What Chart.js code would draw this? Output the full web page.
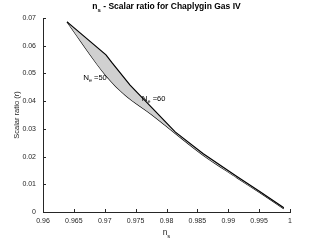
<!DOCTYPE html>
<html>
<head>
<meta charset="utf-8">
<script src="https://cdn.jsdelivr.net/npm/chart.js@4/dist/chart.umd.min.js"></script>
<style>
  html, body { margin: 0; padding: 0; background: #fff; }
  #wrap { width: 321px; height: 241px; position: relative; }
</style>
</head>
<body>
<div id="wrap"><canvas id="chart"></canvas></div>
<script>
// N_e = 60 boundary (upper / right edge of the band)
const nsN60 = [0.9639, 0.9702, 0.9712, 0.9741, 0.9777, 0.9814, 0.9859, 0.9914, 0.9951, 0.9990];
const rN60  = [0.0686, 0.0567, 0.0538, 0.0458, 0.0375, 0.0289, 0.0211, 0.0128, 0.0074, 0.0015];
// N_e = 50 boundary (lower / left edge of the band)
const nsN50 = [0.9639, 0.9704, 0.9733, 0.9777, 0.9814, 0.9859, 0.9914, 0.9951, 0.9990];
const rN50  = [0.0686, 0.0487, 0.0422, 0.0350, 0.0284, 0.0206, 0.0124, 0.0070, 0.0012];

const xTicks = [0.96, 0.965, 0.97, 0.975, 0.98, 0.985, 0.99, 0.995, 1];
const xTickLabels = ["0.96", "0.965", "0.97", "0.975", "0.98", "0.985", "0.99", "0.995", "1"];
const yTicks = [0, 0.01, 0.02, 0.03, 0.04, 0.05, 0.06, 0.07];
const yTickLabels = ["0", "0.01", "0.02", "0.03", "0.04", "0.05", "0.06", "0.07"];

const FONT = "'Liberation Sans', Arial, Helvetica, sans-serif";
const AXIS = "#262626";

function pts(xs, ys) {
  return xs.map((v, i) => ({ x: v, y: ys[i] }));
}

// text with a subscript part: parts = [[text, size, bold, dy], ...]
function drawParts(ctx, parts, x, y, align) {
  let w = 0;
  parts.forEach((p) => {
    ctx.font = (p[2] ? "bold " : "") + p[1] + "px " + FONT;
    w += ctx.measureText(p[0]).width;
  });
  let cx = align === "center" ? x - w / 2 : x;
  ctx.textAlign = "left";
  ctx.textBaseline = "alphabetic";
  parts.forEach((p) => {
    ctx.font = (p[2] ? "bold " : "") + p[1] + "px " + FONT;
    ctx.fillText(p[0], cx, y + p[3]);
    cx += ctx.measureText(p[0]).width;
  });
}

const extras = {
  id: "extras",
  afterDraw(chart) {
    const { ctx, chartArea: a, scales } = chart;
    const x = scales.x, y = scales.y;
    ctx.save();
    // inward ticks
    ctx.strokeStyle = AXIS;
    ctx.lineWidth = 1;
    ctx.beginPath();
    x.ticks.forEach((t) => {
      const px = Math.round(x.getPixelForValue(t.value)) + 0.5;
      ctx.moveTo(px, a.bottom);
      ctx.lineTo(px, a.bottom - 3);
    });
    y.ticks.forEach((t) => {
      const py = Math.round(y.getPixelForValue(t.value)) + 0.5;
      ctx.moveTo(a.left, py);
      ctx.lineTo(a.left + 3, py);
    });
    ctx.stroke();

    // title
    ctx.fillStyle = "#000";
    const mid = (a.left + a.right) / 2;
    drawParts(ctx, [["n", 8.5, true, 0], ["s", 6, true, 2.5],
      [" - Scalar ratio for Chaplygin Gas IV", 8.5, true, 0]], mid, 9, "center");

    // x label
    ctx.fillStyle = AXIS;
    drawParts(ctx, [["n", 8.5, false, 0], ["s", 6, false, 3]], mid, 235, "center");

    // curve labels
    ctx.fillStyle = "#000";
    drawParts(ctx, [["N", 8, false, 0], ["e", 5.5, false, 2], [" =50", 7.5, false, 0]],
      x.getPixelForValue(0.9665), y.getPixelForValue(0.0477), "left");
    drawParts(ctx, [["N", 8, false, 0], ["e", 5.5, false, 2], [" =60", 7.5, false, 0]],
      x.getPixelForValue(0.9760), y.getPixelForValue(0.0399), "left");
    ctx.restore();
  },
};

new Chart(document.getElementById("chart"), {
  type: "line",
  data: {
    datasets: [
      {
        label: "N_e=60",
        data: pts(nsN60, rN60),
        borderColor: "#000",
        borderWidth: 1.2,
        backgroundColor: "#d0d0d0",
        fill: "+1",
        pointRadius: 0,
        tension: 0,
      },
      {
        label: "N_e=50",
        data: pts(nsN50, rN50),
        borderColor: "#000",
        borderWidth: 1.2,
        fill: false,
        pointRadius: 0,
        cubicInterpolationMode: "monotone",
      },
    ],
  },
  options: {
    responsive: true,
    maintainAspectRatio: false,
    animation: false,
    events: [],
    layout: { padding: { left: 0, top: 18, right: 31, bottom: 0 } },
    plugins: { legend: { display: false }, tooltip: { enabled: false }, title: { display: false } },
    scales: {
      x: {
        type: "linear",
        min: 0.96,
        max: 1,
        grid: { display: false, drawTicks: false, tickLength: 0 },
        border: { display: true, color: AXIS, width: 1 },
        afterBuildTicks: (s) => { s.ticks = xTicks.map((v) => ({ value: v })); },
        afterFit: (s) => { s.height = 29; },
        ticks: {
          color: AXIS,
          font: { family: FONT, size: 7 },
          padding: 5,
          maxRotation: 0,
          autoSkip: false,
          callback: (v, i) => xTickLabels[i],
        },
      },
      y: {
        type: "linear",
        min: 0,
        max: 0.07,
        grid: { display: false, drawTicks: false, tickLength: 0 },
        border: { display: true, color: AXIS, width: 1 },
        afterBuildTicks: (s) => { s.ticks = yTicks.map((v) => ({ value: v })); },
        afterFit: (s) => { s.width = 43; },
        ticks: {
          color: AXIS,
          font: { family: FONT, size: 7 },
          padding: 7,
          autoSkip: false,
          callback: (v, i) => yTickLabels[i],
        },
        title: {
          display: true,
          text: "Scalar ratio (r)",
          color: AXIS,
          font: { family: FONT, size: 7.5 },
          padding: { top: 12, bottom: 0 },
        },
      },
    },
  },
  plugins: [extras],
});
</script>
</body>
</html>
